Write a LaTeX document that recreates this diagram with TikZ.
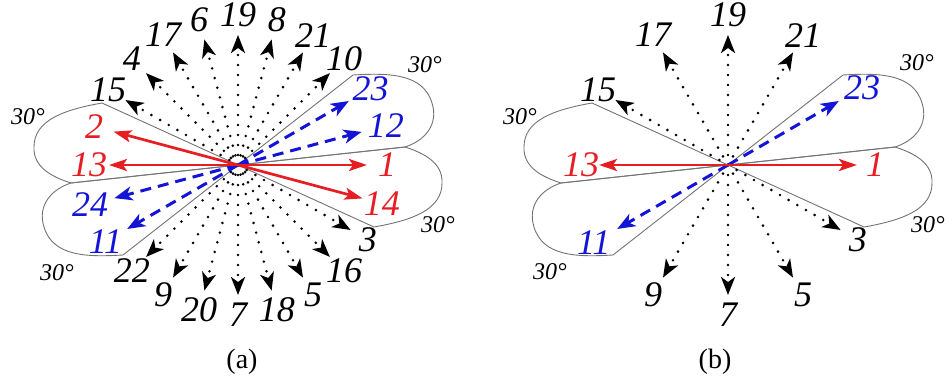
\documentclass[tikz,border=0pt]{standalone}
\usepackage{fontspec}
\setmainfont{Liberation Serif}
\usetikzlibrary{arrows.meta}

\definecolor{beamred}{RGB}{230,30,35}
\definecolor{beamblue}{RGB}{20,20,215}

\tikzset{
    pics/petals/.style={code={
        % upper and lower lobe on the right
        \draw[petal] (0,0) -- (115,90) .. controls (150,92) and (185,92) .. (194,62)
            .. controls (201,40) and (186,24) .. (167,18) -- cycle;
        \draw[petal] (0,0) -- (167,18) .. controls (186,12) and (205,2) .. (204,-18)
            .. controls (204,-44) and (176,-55) .. (136,-62) -- cycle;
    }}
}

\begin{document}
\begin{tikzpicture}[
    x=0.5pt, y=0.5pt,
    every node/.style={font=\fontsize{18}{18}\selectfont\itshape, inner sep=0pt},
    petal/.style={draw=black!55, line width=0.45pt},
    beam/.style={line width=1.45pt, line cap=round, dash pattern=on 0pt off 5pt,
        -{Stealth[length=9pt, width=7pt, inset=2.5pt, line cap=butt]}},
    redbeam/.style={draw=beamred, line width=1.35pt, -{Stealth[length=9pt, width=6pt, inset=2pt]}},
    bluebeam/.style={draw=beamblue, line width=1.5pt, dash pattern=on 5.5pt off 3.5pt,
        -{Stealth[length=9pt, width=7pt, inset=2.5pt]}},
    deglabel/.style={font=\fontsize{12}{12}\selectfont\itshape},
    caption/.style={font=\fontsize{14}{14}\selectfont\upshape}
]
    \useasboundingbox (0,0) rectangle (952,382);

    % (a) all 24 beams
    \begin{scope}[shift={(238,217)}]
        \pic at (0,0) {petals};
        \pic[rotate=180] at (0,0) {petals};
        \coordinate (ca) at (0,0);
        \foreach \ang/\lab in {45/10, 60/21, 75/8, 90/19, 105/6, 120/17, 135/4, 150/15,
                               225/22, 240/9, 255/20, 270/7, 285/18, 300/5, 315/16, 330/3} {
            \coordinate (a-tip\lab) at (\ang:130);
            \node (a-\lab) at (\ang:150) {\lab};
            \draw[beam] (ca) -- (a-tip\lab);
        }
        \foreach \ang/\lab in {15/12, 30/23, 195/24, 210/11} {
            \coordinate (a-tip\lab) at (\ang:128);
            \node[text=beamblue] (a-\lab) at (\ang:153) {\lab};
            \draw[bluebeam] (ca) -- (a-tip\lab);
        }
        \foreach \ang/\lab in {0/1, 165/2, 180/13, 345/14} {
            \coordinate (a-tip\lab) at (\ang:129);
            \node[text=beamred] (a-\lab) at (\ang:149) {\lab};
            \draw[redbeam] (ca) -- (a-tip\lab);
        }
        \node[deglabel] (a-deg1) at (187,100) {30\textdegree};
        \node[deglabel] (a-deg2) at (-210,48) {30\textdegree};
        \node[deglabel] (a-deg3) at (200,-60) {30\textdegree};
        \node[deglabel] (a-deg4) at (-181,-108) {30\textdegree};
    \end{scope}

    % (b) every second beam
    \begin{scope}[shift={(728,217)}]
        \pic at (0,0) {petals};
        \pic[rotate=180] at (0,0) {petals};
        \coordinate (cb) at (0,0);
        \foreach \ang/\lab in {60/21, 90/19, 120/17, 150/15, 240/9, 270/7, 300/5, 330/3} {
            \coordinate (b-tip\lab) at (\ang:130);
            \node (b-\lab) at (\ang:150) {\lab};
            \draw[beam] (cb) -- (b-tip\lab);
        }
        \foreach \ang/\lab in {30/23, 210/11} {
            \coordinate (b-tip\lab) at (\ang:128);
            \node[text=beamblue] (b-\lab) at (\ang:155) {\lab};
            \draw[bluebeam] (cb) -- (b-tip\lab);
        }
        \foreach \ang/\lab in {0/1, 180/13} {
            \coordinate (b-tip\lab) at (\ang:129);
            \node[text=beamred] (b-\lab) at (\ang:147) {\lab};
            \draw[redbeam] (cb) -- (b-tip\lab);
        }
        \node[deglabel] (b-deg1) at (189,102) {30\textdegree};
        \node[deglabel] (b-deg2) at (-208,48) {30\textdegree};
        \node[deglabel] (b-deg3) at (200,-60) {30\textdegree};
        \node[deglabel] (b-deg4) at (-178,-107) {30\textdegree};
    \end{scope}

    \node[caption] (capa) at (242,20) {(a)};
    \node[caption] (capb) at (715,20) {(b)};
\end{tikzpicture}
\end{document}
